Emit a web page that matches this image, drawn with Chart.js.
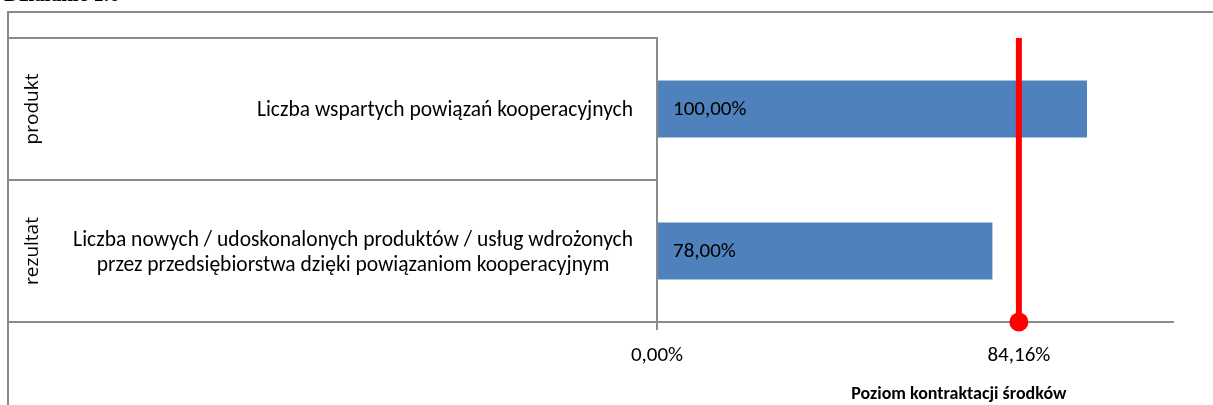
<!DOCTYPE html>
<html>
<head>
<meta charset="utf-8">
<script src="https://cdn.jsdelivr.net/npm/chart.js@4"></script>
<style>
  html, body { margin: 0; padding: 0; background: #fff; }
  canvas { display: block; }
</style>
</head>
<body>
<canvas id="chart" width="1213" height="405"></canvas>
<script>
// data
const categories = [
    ['Liczba wspartych powiązań kooperacyjnych'],
    ['Liczba nowych / udoskonalonych produktów / usług wdrożonych', 'przez przedsiębiorstwa dzięki powiązaniom kooperacyjnym']
];
const groups = ['produkt', 'rezultat'];
const contractLevel = [100, 78];
const averageLevel = [84.16];
const xTickValues = [0, 84.16];

const FONT = 'Carlito, Lato, sans-serif';
const GRAY = '#8a8a8a';

const fmt = v => v.toFixed(2).replace('.', ',') + '%';

const extras = {
    id: 'extras',
    beforeDraw(chart) {
        const ctx = chart.ctx;
        ctx.save();
        // frame
        ctx.strokeStyle = GRAY;
        ctx.lineWidth = 2;
        ctx.beginPath();
        ctx.moveTo(1213, 12);
        ctx.lineTo(8, 12);
        ctx.lineTo(8, 405);
        ctx.stroke();
        // cut-off heading
        ctx.fillStyle = '#000';
        ctx.font = 'bold 21px "Liberation Serif", serif';
        ctx.textBaseline = 'alphabetic';
        ctx.textAlign = 'left';
        ctx.fillText('Działanie 1.6', 4, 1);
        ctx.restore();
    },
    afterDatasetsDraw(chart) {
        const ctx = chart.ctx;
        const x = chart.scales.x, y = chart.scales.y;
        const area = chart.chartArea;
        ctx.save();
        // bar value labels
        ctx.fillStyle = '#000';
        ctx.font = '21px ' + FONT;
        ctx.textAlign = 'left';
        ctx.textBaseline = 'middle';
        chart.getDatasetMeta(0).data.forEach((bar, i) => {
            ctx.fillText(fmt(contractLevel[i]), bar.base + 15, bar.y + 1);
        });
        // category labels
        categories.forEach((lines, i) => {
            const cy = y.getPixelForValue(i);
            ctx.font = '21.5px ' + FONT;
            const w = Math.max(...lines.map(l => ctx.measureText(l).width));
            const cx = area.left - 24 - w / 2;
            ctx.textAlign = 'center';
            lines.forEach((l, j) => {
                ctx.fillText(l, cx, cy + 2 + (j - (lines.length - 1) / 2) * 25);
            });
            ctx.save();
            ctx.font = '19px "Open Sans", sans-serif';
            ctx.translate(33, cy);
            ctx.rotate(-Math.PI / 2);
            ctx.fillText(groups[i], 0, 0);
            ctx.restore();
        });
        // average line
        const ax = x.getPixelForValue(averageLevel[0]);
        ctx.strokeStyle = '#ff0000';
        ctx.lineWidth = 6;
        ctx.beginPath();
        ctx.moveTo(ax, area.top);
        ctx.lineTo(ax, area.bottom);
        ctx.stroke();
        ctx.fillStyle = '#ff0000';
        ctx.beginPath();
        ctx.arc(ax, area.bottom, 9.5, 0, Math.PI * 2);
        ctx.fill();
        // axis title
        ctx.fillStyle = '#000';
        ctx.font = 'bold 18px ' + FONT;
        ctx.textAlign = 'center';
        ctx.fillText('Poziom kontraktacji środków', x.getPixelForValue(70.2), 394);
        ctx.restore();
    }
};

new Chart(document.getElementById('chart'), {
    type: 'bar',
    data: {
        labels: categories,
        datasets: [{
            data: contractLevel,
            backgroundColor: '#4F81BD',
            barPercentage: 0.4,
            categoryPercentage: 1
        }]
    },
    options: {
        indexAxis: 'y',
        responsive: false,
        animation: false,
        devicePixelRatio: 1,
        layout: { padding: { left: 8, top: 38, right: 40, bottom: 0 } },
        plugins: {
            legend: { display: false },
            tooltip: { enabled: false }
        },
        scales: {
            x: {
                min: 0,
                max: 120,
                afterBuildTicks: s => { s.ticks = xTickValues.map(v => ({ value: v })); },
                afterFit: s => { s.height = 83; },
                ticks: {
                    callback: v => fmt(v),
                    color: '#000',
                    font: { family: FONT, size: 21 },
                    padding: 13,
                    maxRotation: 0,
                    autoSkip: false
                },
                grid: { drawOnChartArea: false, tickLength: 8, color: GRAY, lineWidth: 2 },
                border: { color: GRAY, width: 2 }
            },
            y: {
                afterFit: s => { s.width = 649; },
                ticks: { display: false },
                grid: { drawOnChartArea: false, tickLength: 649, color: GRAY, lineWidth: 2, offset: true },
                border: { color: GRAY, width: 2 }
            }
        }
    },
    plugins: [extras]
});
</script>
</body>
</html>
